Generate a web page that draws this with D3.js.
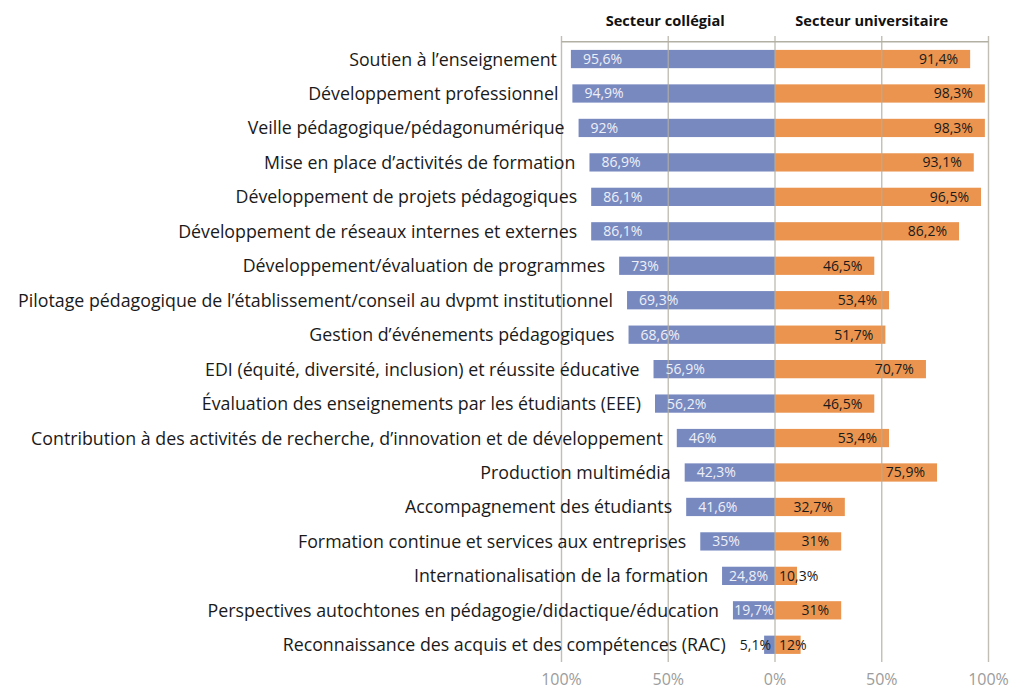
<!DOCTYPE html>
<html>
<head>
<meta charset="utf-8">
<script src="https://cdn.jsdelivr.net/npm/d3@7"></script>
<style>
  html, body { margin: 0; padding: 0; background: #fff; }
  svg { display: block; font-family: "Open Sans", sans-serif; }
</style>
</head>
<body>
<svg id="chart" width="1021" height="691"></svg>
<script>
'use strict';

var categories = [
  "Soutien à l’enseignement",
  "Développement professionnel",
  "Veille pédagogique/pédagonumérique",
  "Mise en place d’activités de formation",
  "Développement de projets pédagogiques",
  "Développement de réseaux internes et externes",
  "Développement/évaluation de programmes",
  "Pilotage pédagogique de l’établissement/conseil au dvpmt institutionnel",
  "Gestion d’événements pédagogiques",
  "EDI (équité, diversité, inclusion) et réussite éducative",
  "Évaluation des enseignements par les étudiants (EEE)",
  "Contribution à des activités de recherche, d’innovation et de développement",
  "Production multimédia",
  "Accompagnement des étudiants",
  "Formation continue et services aux entreprises",
  "Internationalisation de la formation",
  "Perspectives autochtones en pédagogie/didactique/éducation",
  "Reconnaissance des acquis et des compétences (RAC)"
];

var collegial = [95.6, 94.9, 92, 86.9, 86.1, 86.1, 73, 69.3, 68.6, 56.9, 56.2, 46, 42.3, 41.6, 35, 24.8, 19.7, 5.1];
var universitaire = [91.4, 98.3, 98.3, 93.1, 96.5, 86.2, 46.5, 53.4, 51.7, 70.7, 46.5, 53.4, 75.9, 32.7, 31, 10.3, 31, 12];

var seriesNames = ["Secteur collégial", "Secteur universitaire"];
var tickValues = [-100, -50, 0, 50, 100];

var blue = "#7889c0",
    orange = "#ea944f",
    grid = "#b2afa3";

var svg = d3.select("#chart");

var x = d3.scaleLinear().domain([-100, 100]).range([561.5, 988.5]);
var y = d3.scaleBand()
      .domain(categories)
      .range([41.8, 662])
      .paddingInner(0.47)
      .paddingOuter(0.235);

var fmt = function(v) { return String(v).replace(".", ",") + "%"; };

/* headers */
svg.append("g").selectAll("text")
  .data(seriesNames)
  .enter().append("text")
  .attr("x", function(d, i) { return i === 0 ? x(-50) - 3 : x(50) - 10; })
  .attr("y", 26)
  .attr("text-anchor", "middle")
  .style("font-weight", "700")
  .style("font-size", "14.6px")
  .style("fill", "#111")
  .text(function(d) { return d; });

/* bars */
var rows = categories.map(function(c, i) {
  return { cat: c, left: collegial[i], right: universitaire[i] };
});

var bars = svg.append("g");
bars.selectAll("rect.left")
  .data(rows)
  .enter().append("rect")
  .attr("class", "left")
  .attr("x", function(d) { return x(-d.left); })
  .attr("y", function(d) { return y(d.cat); })
  .attr("width", function(d) { return x(0) - x(-d.left); })
  .attr("height", y.bandwidth())
  .style("fill", blue);

bars.selectAll("rect.right")
  .data(rows)
  .enter().append("rect")
  .attr("class", "right")
  .attr("x", x(0))
  .attr("y", function(d) { return y(d.cat); })
  .attr("width", function(d) { return x(d.right) - x(0); })
  .attr("height", y.bandwidth())
  .style("fill", orange);

/* grid over the bars, like the original */
var gridG = svg.append("g");
gridG.selectAll("line")
  .data(tickValues)
  .enter().append("line")
  .attr("x1", function(d) { return x(d); })
  .attr("x2", function(d) { return x(d); })
  .attr("y1", 36)
  .attr("y2", y.range()[1])
  .style("stroke", grid)
  .style("stroke-width", 1.4)
  .style("stroke-opacity", 0.8);

gridG.append("line")
  .attr("x1", x(-100))
  .attr("x2", x(100))
  .attr("y1", y.range()[0])
  .attr("y2", y.range()[0])
  .style("stroke", grid)
  .style("stroke-width", 1.4);

/* bottom tick labels */
svg.append("g").selectAll("text")
  .data(tickValues)
  .enter().append("text")
  .attr("x", function(d) { return x(d); })
  .attr("y", 685)
  .attr("text-anchor", "middle")
  .style("font-size", "16px")
  .style("fill", "#9c9c9c")
  .text(function(d) { return Math.abs(d) + "%"; });

/* value labels + category labels */
var labels = svg.append("g");
rows.forEach(function(d) {
  var cy = y(d.cat) + y.bandwidth() / 2 + 5;

  // collégial
  var x0 = x(-d.left), w = x(0) - x0;
  var t = labels.append("text")
    .attr("y", cy)
    .style("font-size", "14px")
    .text(fmt(d.left));
  var tw = t.node().getComputedTextLength();
  var leftEdge;
  if (w >= tw) {
    t.attr("x", x0 + Math.min(12, Math.max(1, (w - tw) / 2)))
      .style("fill", "#eef0f8");
    leftEdge = x0;
  } else {
    t.attr("x", x(0) - 4).attr("text-anchor", "end").style("fill", "#1a1a1a");
    leftEdge = x(0) - 4 - tw;
  }

  // universitaire
  var x1 = x(d.right), w2 = x1 - x(0);
  var t2 = labels.append("text")
    .attr("y", cy)
    .style("font-size", "14px")
    .style("fill", "#1a1a1a")
    .text(fmt(d.right));
  var tw2 = t2.node().getComputedTextLength();
  if (w2 >= tw2 + 16) {
    t2.attr("x", x1 - Math.min(12, (w2 - tw2) / 2)).attr("text-anchor", "end");
  } else {
    t2.attr("x", x(0) + 4);
  }

  labels.append("text")
    .attr("x", leftEdge - 14)
    .attr("y", cy + 1.5)
    .attr("text-anchor", "end")
    .style("font-size", "17.8px")
    .style("fill", "#1a1a1a")
    .text(d.cat);
});
</script>
</body>
</html>
